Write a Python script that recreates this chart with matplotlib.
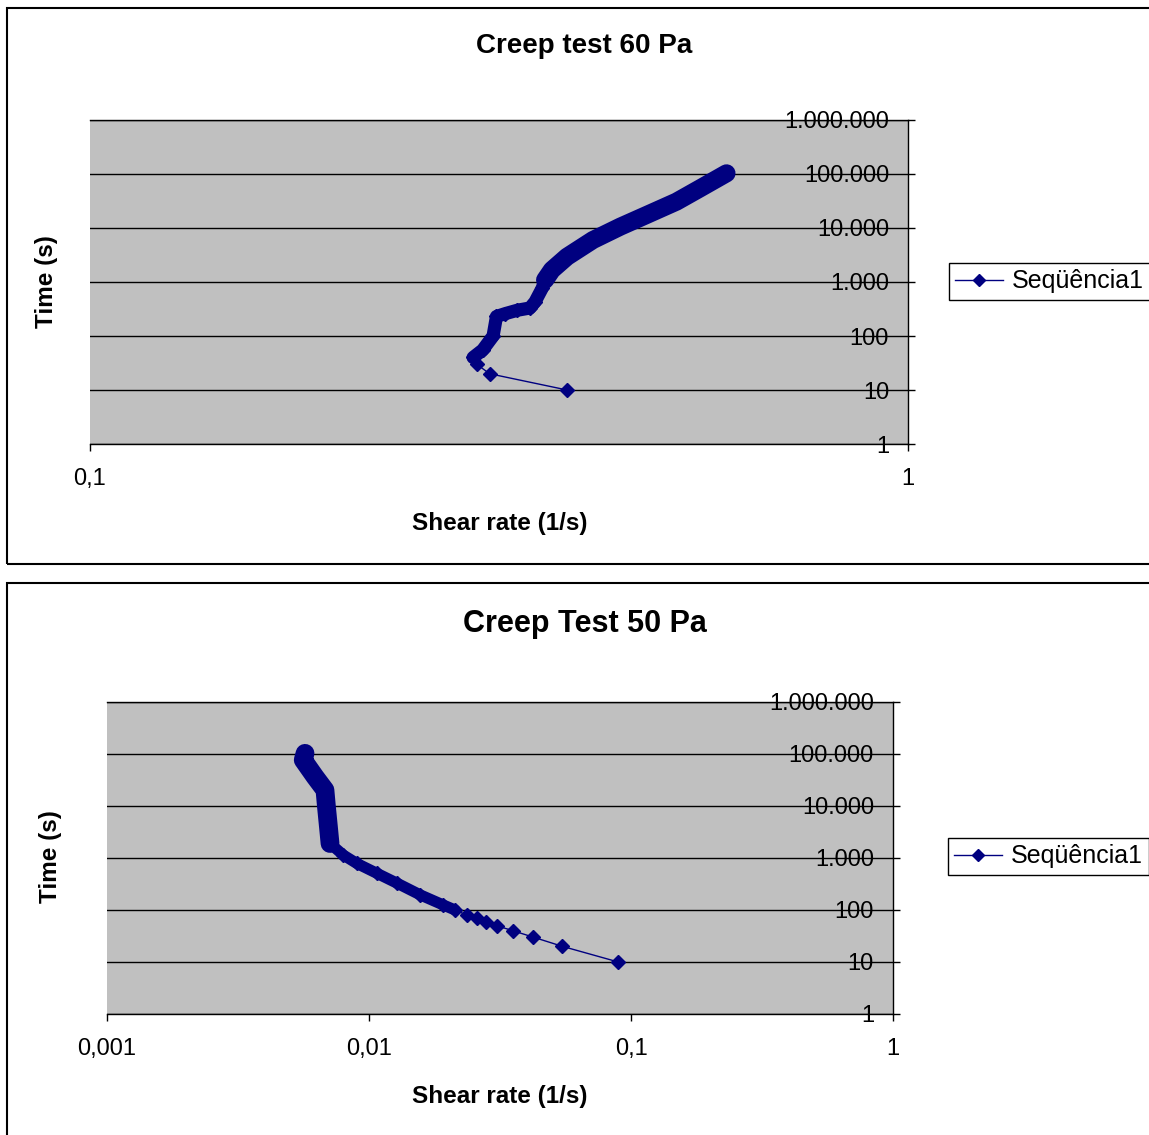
import matplotlib
matplotlib.use("Agg")
import matplotlib.pyplot as plt
from matplotlib.lines import Line2D
from matplotlib.patches import Rectangle
from matplotlib.ticker import FixedLocator, FixedFormatter, NullLocator

# --- data (shear rate in 1/s, time in s) ---
top_rate = [0.383, 0.308, 0.297, 0.294, 0.302, 0.311, 0.314, 0.322, 0.333, 0.345,
            0.350, 0.357, 0.360, 0.367, 0.383, 0.412, 0.445, 0.479, 0.521, 0.557, 0.600]
top_time = [10, 20, 30, 40, 55, 100, 230, 260, 300, 330,
            430, 760, 1090, 1670, 2940, 6000, 10600, 17400, 30700, 54300, 103000]

bot_rate = [0.0894, 0.0547, 0.0424, 0.0354, 0.0307, 0.0279, 0.0258, 0.0236, 0.0213, 0.0192,
            0.0157, 0.01276, 0.0107, 0.00897, 0.00798, 0.0071, 0.0070, 0.00688, 0.00679,
            0.00622, 0.00561, 0.0057]
bot_time = [10, 20, 30, 40, 50, 60, 70, 80, 100, 125,
            195, 330, 510, 790, 1140, 1900, 4000, 9700, 20300,
            36600, 76700, 103000]

y_ticks = [1, 10, 100, 1000, 10000, 100000, 1000000]
y_labels = ["1", "10", "100", "1.000", "10.000", "100.000", "1.000.000"]
top_xticks = [0.1, 1]
top_xlabels = ["0,1", "1"]
bot_xticks = [0.001, 0.01, 0.1, 1]
bot_xlabels = ["0,001", "0,01", "0,1", "1"]
series_name = "Seqüência1"

W, H = 1149, 1135
NAVY = "#000080"
PX = 0.72  # points per pixel at 100 dpi
TICK_FS = 17

plt.rcParams['font.family'] = ['Liberation Sans', 'DejaVu Sans']


def fbox(l, t, r, b):
    return [l / W, 1 - b / H, (r - l) / W, (b - t) / H]


def fx(x):
    return x / W


def fy(y):
    return 1 - y / H


def panel(fig, box, rate, time, xticks, xlabels, xlim, dense, heavy,
          title, title_pos, title_size, xlabel_pos, ylabel_pos, legend_pos):
    ax = fig.add_axes(fbox(*box))
    ax.set_facecolor("#c0c0c0")
    ax.set_xscale("log")
    ax.set_yscale("log")
    ax.set_xlim(*xlim)
    ax.set_ylim(1, 1000000)

    ax.yaxis.tick_right()
    ax.yaxis.set_major_locator(FixedLocator(y_ticks))
    ax.yaxis.set_major_formatter(FixedFormatter(y_labels))
    ax.yaxis.set_minor_locator(NullLocator())
    ax.xaxis.set_major_locator(FixedLocator(xticks))
    ax.xaxis.set_major_formatter(FixedFormatter(xlabels))
    ax.xaxis.set_minor_locator(NullLocator())

    ax.tick_params(axis="y", direction="out", length=7 * PX, width=1,
                   pad=-(19 + 7) * PX, labelsize=TICK_FS)
    for t in ax.yaxis.get_major_ticks():
        t.label2.set_horizontalalignment("right")
    ax.tick_params(axis="x", direction="out", length=7 * PX, width=1,
                   pad=17 * PX, labelsize=TICK_FS)

    ax.grid(axis="y", color="black", lw=1)
    ax.set_axisbelow(True)
    ax.spines["left"].set_visible(False)
    for s in ("top", "right", "bottom"):
        ax.spines[s].set_color("black")
        ax.spines[s].set_linewidth(1)

    # overlapping markers of the dense part form a solid band
    for start, lw in ((dense[0], dense[1]), (heavy[0], heavy[1])):
        ax.plot(rate[start:], time[start:], color=NAVY, lw=lw,
                solid_capstyle="round", solid_joinstyle="round", zorder=3)
    ax.plot(rate, time, color=NAVY, lw=1, marker="D", ms=7, zorder=4)

    fig.text(fx(title_pos[0]), fy(title_pos[1]), title, ha="center", va="center",
             fontsize=title_size, fontweight="bold")
    fig.text(fx(xlabel_pos[0]), fy(xlabel_pos[1]), "Shear rate (1/s)", ha="center",
             va="center", fontsize=17.5, fontweight="bold")
    fig.text(fx(ylabel_pos[0]), fy(ylabel_pos[1]), "Time (s)", ha="center",
             va="center", rotation=90, fontsize=17.5, fontweight="bold")

    handle = Line2D([], [], color=NAVY, lw=1, marker="D", ms=6)
    leg = ax.legend([handle], [series_name], loc="upper left",
                    bbox_to_anchor=(fx(legend_pos[0]), fy(legend_pos[1])),
                    bbox_transform=fig.transFigure, fontsize=18, frameon=True,
                    fancybox=False, framealpha=1, edgecolor="black", borderpad=0.25,
                    handlelength=1.9, handletextpad=0.35, borderaxespad=0)
    leg.get_frame().set_linewidth(1)
    return ax


fig = plt.figure(figsize=(W / 100, H / 100), dpi=100)

# chart frames
for top, bottom in ((8, 564), (583, 1145)):
    fig.patches.append(Rectangle((fx(7), fy(bottom)), fx(1170 - 7), (bottom - top) / H,
                                 transform=fig.transFigure, fill=False,
                                 lw=1.5, ec="black", zorder=0))

panel(fig, (90, 120, 908, 444), top_rate, top_time, top_xticks, top_xlabels, (0.1, 1),
      (3, 9.5), (12, 13), "Creep test 60 Pa", (584, 46), 20, (500, 524), (47, 282),
      (949, 263))
panel(fig, (107, 702, 893, 1014), bot_rate, bot_time, bot_xticks, bot_xlabels, (0.001, 1),
      (8, 8), (15, 13.5), "Creep Test 50 Pa", (585, 624), 22, (500, 1096), (50, 857),
      (948, 838))

fig.savefig("out.png", dpi=100)
